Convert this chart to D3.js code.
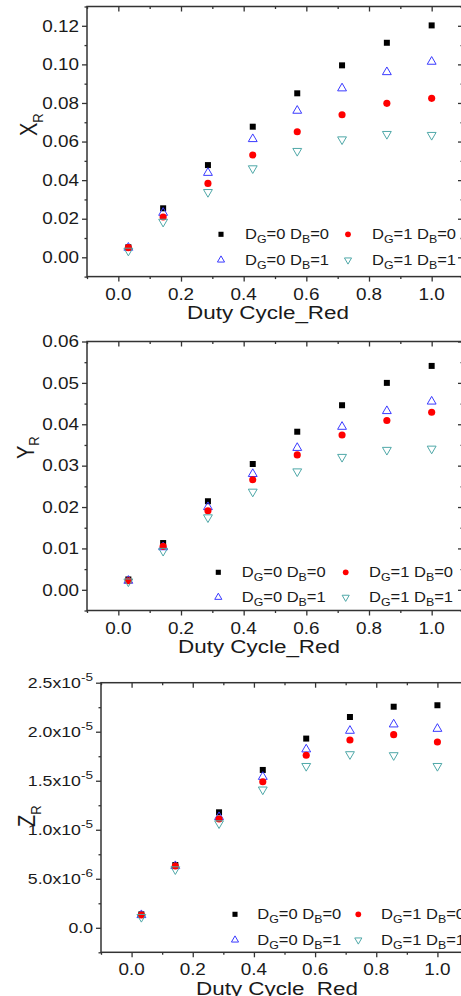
<!DOCTYPE html>
<html>
<head>
<meta charset="utf-8">
<script src="https://cdn.jsdelivr.net/npm/d3@7"></script>
<style>
  body { margin: 0; background: #fff; }
  svg { display: block; }
  text { font-family: "Liberation Sans", Arial, sans-serif; fill: #1a1a1a; }
</style>
</head>
<body>
<script>
        var w = 461;
        var h = 996;
        var sx = 1.18;   // the picture is stretched a bit sideways

        // duty cycle of the red channel
        var dutyCycle = [0.032, 0.143, 0.286, 0.429, 0.571, 0.714, 0.857, 1.0];

        // X_R
        var xR_g0b0 = [0.0052, 0.0254, 0.0478, 0.0677, 0.0850, 0.0995, 0.1112, 0.1202];
        var xR_g0b1 = [0.0050, 0.0231, 0.0438, 0.0613, 0.0760, 0.0876, 0.0960, 0.1014];
        var xR_g1b0 = [0.0050, 0.0209, 0.0383, 0.0530, 0.0651, 0.0739, 0.0798, 0.0824];
        var xR_g1b1 = [0.0034, 0.0184, 0.0338, 0.0461, 0.0551, 0.0611, 0.0639, 0.0634];

        // Y_R
        var yR_g0b0 = [0.0025, 0.0113, 0.0214, 0.0304, 0.0382, 0.0446, 0.0500, 0.0541];
        var yR_g0b1 = [0.0022, 0.0103, 0.0200, 0.0280, 0.0343, 0.0394, 0.0432, 0.0455];
        var yR_g1b0 = [0.0022, 0.0105, 0.0191, 0.0266, 0.0326, 0.0374, 0.0409, 0.0429];
        var yR_g1b1 = [0.0020, 0.0094, 0.0175, 0.0237, 0.0286, 0.0321, 0.0338, 0.0341];

        // Z_R
        var zR_g0b0 = [1.37e-6, 6.40e-6, 11.78e-6, 16.1e-6, 19.3e-6, 21.5e-6, 22.55e-6, 22.7e-6];
        var zR_g0b1 = [1.30e-6, 6.30e-6, 11.3e-6, 15.4e-6, 18.2e-6, 20.1e-6, 20.75e-6, 20.3e-6];
        var zR_g1b0 = [1.30e-6, 6.30e-6, 11.1e-6, 14.9e-6, 17.6e-6, 19.15e-6, 19.7e-6, 18.95e-6];
        var zR_g1b1 = [1.10e-6, 5.96e-6, 10.65e-6, 14.1e-6, 16.5e-6, 17.7e-6, 17.6e-6, 16.5e-6];

        // series names: [D_G, D_B]
        var seriesNames = [[0, 0], [0, 1], [1, 0], [1, 1]];

        // tick labels
        var xTicks = [0.0, 0.2, 0.4, 0.6, 0.8, 1.0];
        var xTickLabels = ["0.0", "0.2", "0.4", "0.6", "0.8", "1.0"];
        var xMinor = [-0.1, 0.1, 0.3, 0.5, 0.7, 0.9, 1.1];

        var xRTicks = [0, 0.02, 0.04, 0.06, 0.08, 0.10, 0.12];
        var xRTickLabels = ["0.00", "0.02", "0.04", "0.06", "0.08", "0.10", "0.12"];
        var yRTicks = [0, 0.01, 0.02, 0.03, 0.04, 0.05, 0.06];
        var yRTickLabels = ["0.00", "0.01", "0.02", "0.03", "0.04", "0.05", "0.06"];
        var zRTicks = [0, 5e-6, 10e-6, 15e-6, 20e-6, 25e-6];
        var zRTickLabels = ["0.0", "5.0x10^-6", "1.0x10^-5", "1.5x10^-5", "2.0x10^-5", "2.5x10^-5"];

        var axisColor = "#333";

        // marker styles for the four series (same order as seriesNames)
        var styles = [
            {type: d3.symbolSquare, size: 36, fill: "#000", stroke: "none", rot: 0, lsize: 26},
            {type: d3.symbolTriangle, size: 34, fill: "none", stroke: "#3a3aff", rot: 0, lsize: 22},
            {type: d3.symbolCircle, size: 40, fill: "#ff0000", stroke: "none", rot: 0, lsize: 26},
            {type: d3.symbolTriangle, size: 34, fill: "none", stroke: "#4fa8a8", rot: 180, lsize: 22}
        ];

        var panels = [
            {l: 87, r: 463, t: 6.5, b: 276.6, yDomain: [-0.01, 0.13],
             series: [xR_g0b0, xR_g0b1, xR_g1b0, xR_g1b1],
             yTicks: xRTicks, yLabels: xRTickLabels, yStep: 0.01, yFont: 16,
             title: "X", titleX: 37, titleY: 136,
             legX: [221, 245, 348, 372], legY: [234.3, 260], xTitleX: 268},
            {l: 87, r: 463, t: 341.5, b: 610.5, yDomain: [-0.005, 0.06],
             series: [yR_g0b0, yR_g0b1, yR_g1b0, yR_g1b1],
             yTicks: yRTicks, yLabels: yRTickLabels, yStep: 0.005, yFont: 16,
             title: "Y", titleX: 33.5, titleY: 459,
             legX: [218.3, 241.7, 345.7, 369], legY: [572.3, 597.3], xTitleX: 259},
            {l: 101, r: 468, t: 682.7, b: 952.3, yDomain: [-2.5e-6, 25e-6],
             series: [zR_g0b0, zR_g0b1, zR_g1b0, zR_g1b1],
             yTicks: zRTicks, yLabels: zRTickLabels, yStep: 2.5e-6, yFont: 15,
             title: "Z", titleX: 35, titleY: 827,
             legX: [235, 257.3, 358.3, 381], legY: [914.3, 940], xTitleX: 277}
        ];

        var svg = d3.select("body")
            .append("svg")
            .attr("width", w)
            .attr("height", h);

        function stretched(g, x, y, extra) {
            return g.append("text")
                .attr("transform", "translate(" + x + "," + y + ") scale(" + sx + ",1)" + (extra || ""));
        }

        function drawPanel(p) {
            var xScale = d3.scaleLinear().domain([-0.1, 1.1]).range([p.l, p.r]);
            var yScale = d3.scaleLinear().domain(p.yDomain).range([p.b, p.t]);

            var yMinor = d3.range(p.yDomain[0], p.yDomain[1] + p.yStep / 2, p.yStep * 2);

            var g = svg.append("g");

            // ticks: bottom/left outward, top/right inward
            var axes = [
                [d3.axisBottom(xScale).tickValues(xTicks).tickSize(5), "translate(0," + p.b + ")"],
                [d3.axisBottom(xScale).tickValues(xMinor).tickSize(2.5), "translate(0," + p.b + ")"],
                [d3.axisTop(xScale).tickValues(xTicks).tickSize(-5), "translate(0," + p.t + ")"],
                [d3.axisTop(xScale).tickValues(xMinor).tickSize(-2.5), "translate(0," + p.t + ")"],
                [d3.axisLeft(yScale).tickValues(p.yTicks).tickSize(5), "translate(" + p.l + ",0)"],
                [d3.axisLeft(yScale).tickValues(yMinor).tickSize(2.5), "translate(" + p.l + ",0)"],
                [d3.axisRight(yScale).tickValues(p.yTicks).tickSize(-5), "translate(" + p.r + ",0)"],
                [d3.axisRight(yScale).tickValues(yMinor).tickSize(-2.5), "translate(" + p.r + ",0)"]
            ];
            axes.forEach(function(a) {
                var ax = g.append("g")
                    .attr("transform", a[1])
                    .call(a[0].tickFormat("").tickSizeOuter(0));
                ax.select(".domain").remove();
                ax.selectAll("line").attr("stroke", axisColor).attr("stroke-width", 1.3);
            });

            // frame
            g.append("rect")
                .attr("x", p.l).attr("y", p.t)
                .attr("width", p.r - p.l).attr("height", p.b - p.t)
                .attr("fill", "none")
                .attr("stroke", axisColor)
                .attr("stroke-width", 1.5);

            // x tick labels
            xTicks.forEach(function(v, i) {
                stretched(g, xScale(v), p.b + 23)
                    .attr("text-anchor", "middle")
                    .style("font-size", "16px")
                    .text(xTickLabels[i]);
            });

            // y tick labels
            p.yTicks.forEach(function(v, i) {
                var parts = p.yLabels[i].split("^");
                var t = stretched(g, p.l - 8, yScale(v))
                    .attr("text-anchor", "end")
                    .attr("dy", "0.36em")
                    .style("font-size", p.yFont + "px");
                t.append("tspan").text(parts[0]);
                if (parts[1]) {
                    t.append("tspan").attr("dy", -7).style("font-size", "11.5px").text(parts[1]);
                }
            });

            // axis titles
            stretched(g, p.xTitleX, p.b + 42.5)
                .attr("text-anchor", "middle")
                .style("font-size", "19px")
                .text("Duty Cycle_Red");

            var yt = stretched(g, p.titleX, p.titleY, " rotate(-90)")
                .style("font-size", "20px");
            yt.append("tspan").text(p.title);
            yt.append("tspan").attr("dy", 5).style("font-size", "13px").text("R");

            // points
            p.series.forEach(function(vals, si) {
                var st = styles[si];
                g.selectAll(null)
                    .data(vals)
                    .enter()
                    .append("path")
                    .attr("d", d3.symbol().type(st.type).size(st.size))
                    .attr("transform", function(d, i) {
                        return "translate(" + xScale(dutyCycle[i]) + "," + yScale(d) + ") rotate(" + st.rot + ")";
                    })
                    .attr("fill", st.fill)
                    .attr("stroke", st.stroke)
                    .attr("stroke-width", 1);
            });

            // legend: row 1 = [0,0] and [1,0], row 2 = [0,1] and [1,1]
            var legendOrder = [[0, 0, 0], [2, 1, 0], [1, 0, 1], [3, 1, 1]];
            legendOrder.forEach(function(o) {
                var si = o[0], st = styles[si];
                var mx = p.legX[o[1] * 2], tx = p.legX[o[1] * 2 + 1], ly = p.legY[o[2]];
                g.append("path")
                    .attr("d", d3.symbol().type(st.type).size(st.lsize))
                    .attr("transform", "translate(" + mx + "," + ly + ") rotate(" + st.rot + ")")
                    .attr("fill", st.fill)
                    .attr("stroke", st.stroke)
                    .attr("stroke-width", 1);

                var nm = seriesNames[si];
                var t = stretched(g, tx, ly + 5).style("font-size", "14px");
                t.append("tspan").text("D");
                t.append("tspan").attr("dy", 4).style("font-size", "10.5px").text("G");
                t.append("tspan").attr("dy", -4).text("=" + nm[0] + " D");
                t.append("tspan").attr("dy", 4).style("font-size", "10.5px").text("B");
                t.append("tspan").attr("dy", -4).text("=" + nm[1]);
            });
        }

        panels.forEach(drawPanel);
</script>
</body>
</html>
